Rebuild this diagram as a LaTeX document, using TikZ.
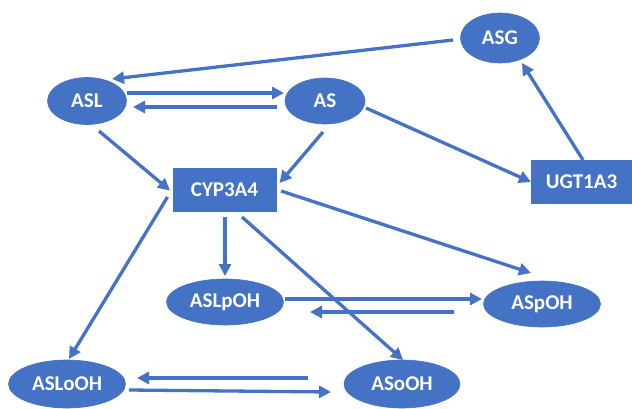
\documentclass[tikz,border=0pt]{standalone}
\usepackage{fontspec}
\setmainfont{Carlito}
\usetikzlibrary{shapes.geometric,arrows.meta}
\definecolor{ofblue}{HTML}{4472C4}
\begin{document}
\begin{tikzpicture}[x=1pt,y=-1pt,
  base/.style={fill=ofblue,draw=ofblue,line width=0.6pt,text=white,inner sep=0pt,
    font=\fontsize{21}{24}\selectfont\bfseries},
  oval/.style={base,ellipse},
  enzyme/.style={base,rectangle},
  conn/.style={draw=ofblue,line width=3.3pt,-{Triangle[length=12pt,width=12pt]}}]
\useasboundingbox[fill=white] (0,0) rectangle (632,408);
\node[oval,minimum width=79pt,minimum height=50pt] (ASG) at (500,38) {ASG};
\node[oval,minimum width=79pt,minimum height=47pt] (ASL) at (87,101) {ASL};
\node[oval,minimum width=80pt,minimum height=46pt] (AS) at (325,101) {AS};
\node[enzyme,minimum width=103pt,minimum height=43pt] (CYP) at (224.5,189.5) {CYP3A4};
\node[enzyme,minimum width=101pt,minimum height=43pt] (UGT) at (581.5,182) {UGT1A3};
\node[oval,minimum width=117pt,minimum height=46pt] (ASLpOH) at (225,302) {ASLpOH};
\node[oval,minimum width=117pt,minimum height=46pt] (ASpOH) at (542,304) {ASpOH};
\node[oval,minimum width=117pt,minimum height=48pt] (ASLoOH) at (67,384) {ASLoOH};
\node[oval,minimum width=116pt,minimum height=48pt] (ASoOH) at (402,384) {ASoOH};
% connectors
\draw[conn] ([shift={(-47,2)}]ASG.center) -- ([shift={(25,-22)}]ASL.center);
\draw[conn] ([shift={(40,-8)}]ASL.center) -- ([shift={(-41,-8)}]AS.center);
\draw[conn] ([shift={(-48,6)}]AS.center) -- ([shift={(46,6)}]ASL.center);
\draw[conn] ([shift={(41,7)}]AS.center) -- ([shift={(-50.5,0)}]UGT.center);
\draw[conn] ([shift={(1.5,-22)}]UGT.center) -- ([shift={(22,25)}]ASG.center);
\draw[conn] ([shift={(12,30)}]ASL.center) -- ([shift={(-54.5,1)}]CYP.center);
\draw[conn] ([shift={(-2,31)}]AS.center) -- ([shift={(55,-6.5)}]CYP.center);
\draw[conn] ([shift={(-57,7.5)}]CYP.center) -- ([shift={(2,-25)}]ASLoOH.center);
\draw[conn] ([shift={(0.5,27.5)}]CYP.center) -- ([shift={(0,-26)}]ASLpOH.center);
\draw[conn] ([shift={(17.5,27.5)}]CYP.center) -- ([shift={(1,-24)}]ASoOH.center);
\draw[conn] ([shift={(56.5,1.5)}]CYP.center) -- ([shift={(-11,-31)}]ASpOH.center);
\draw[conn] ([shift={(60,-3)}]ASLpOH.center) -- ([shift={(-60,-5)}]ASpOH.center);
\draw[conn] ([shift={(-88,8)}]ASpOH.center) -- ([shift={(85,10)}]ASLpOH.center);
\draw[conn] ([shift={(-94,-6)}]ASoOH.center) -- ([shift={(70,-6)}]ASLoOH.center);
\draw[conn] ([shift={(62,6)}]ASLoOH.center) -- ([shift={(-71,8)}]ASoOH.center);
\end{tikzpicture}
\end{document}
